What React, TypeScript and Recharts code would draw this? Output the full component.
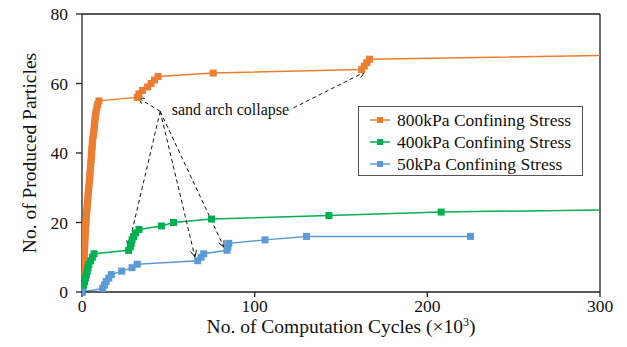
import { LineChart, Line, XAxis, YAxis, ReferenceLine, ReferenceDot, Label } from "recharts";

// 800kPa confining stress (x in 10^3 cycles, y = produced particles)
const orange = [
  { x: 0, y: 0 }, { x: 0.1, y: 1 }, { x: 0.3, y: 2 }, { x: 0.4, y: 3 }, { x: 0.5, y: 4 },
  { x: 0.6, y: 5 }, { x: 0.7, y: 6 }, { x: 0.8, y: 7 }, { x: 0.9, y: 8 }, { x: 1.0, y: 9 },
  { x: 1.2, y: 10 }, { x: 1.3, y: 11 }, { x: 1.4, y: 12 }, { x: 1.5, y: 13 }, { x: 1.6, y: 14 },
  { x: 1.7, y: 15 }, { x: 1.8, y: 16 }, { x: 1.9, y: 17 }, { x: 2.0, y: 18 }, { x: 2.1, y: 19 },
  { x: 2.3, y: 20 }, { x: 2.4, y: 21 }, { x: 2.6, y: 22 }, { x: 2.7, y: 23 }, { x: 2.9, y: 24 },
  { x: 3.0, y: 25 }, { x: 3.2, y: 26 }, { x: 3.4, y: 27 }, { x: 3.5, y: 28 }, { x: 3.7, y: 29 },
  { x: 3.9, y: 30 }, { x: 4.1, y: 31 }, { x: 4.3, y: 32 }, { x: 4.5, y: 33 }, { x: 4.6, y: 34 },
  { x: 4.8, y: 35 }, { x: 5.0, y: 36 }, { x: 5.1, y: 37 }, { x: 5.3, y: 38 }, { x: 5.4, y: 39 },
  { x: 5.6, y: 40 }, { x: 5.7, y: 41 }, { x: 5.9, y: 42 }, { x: 6.0, y: 43 }, { x: 6.2, y: 44 },
  { x: 6.5, y: 45 }, { x: 6.8, y: 46 }, { x: 7.0, y: 47 }, { x: 7.2, y: 48 }, { x: 7.4, y: 49 },
  { x: 7.6, y: 50 }, { x: 7.9, y: 51 }, { x: 8.2, y: 52 }, { x: 8.6, y: 53 }, { x: 9.1, y: 54 },
  { x: 9.8, y: 55 }, { x: 32, y: 56 }, { x: 33, y: 57 }, { x: 35, y: 58 }, { x: 38, y: 59 },
  { x: 40, y: 60 }, { x: 42, y: 61 }, { x: 44, y: 62 }, { x: 76, y: 63 }, { x: 162, y: 64 },
  { x: 163.5, y: 65 }, { x: 165, y: 66 }, { x: 166.5, y: 67 }, { x: 310, y: 68.1 },
];

// 400kPa
const green = [
  { x: 0, y: 0 }, { x: 0.5, y: 1 }, { x: 1, y: 2 }, { x: 1.5, y: 3 }, { x: 2, y: 4 },
  { x: 2.5, y: 5 }, { x: 3, y: 6 }, { x: 3.5, y: 7 }, { x: 4, y: 8 }, { x: 5, y: 9 },
  { x: 6, y: 10 }, { x: 7, y: 11 }, { x: 27, y: 12 }, { x: 28, y: 13 }, { x: 28.5, y: 14 },
  { x: 29, y: 15 }, { x: 30, y: 16 }, { x: 31, y: 17 }, { x: 33, y: 18 }, { x: 46, y: 19 },
  { x: 53, y: 20 }, { x: 75, y: 21 }, { x: 143, y: 22 }, { x: 208, y: 23 }, { x: 310, y: 23.7 },
];

// 50kPa
const blue = [
  { x: 0, y: 0 }, { x: 12, y: 1 }, { x: 13, y: 2 }, { x: 14, y: 3 }, { x: 15.5, y: 4 },
  { x: 17, y: 5 }, { x: 23, y: 6 }, { x: 29, y: 7 }, { x: 32, y: 8 }, { x: 67, y: 9 },
  { x: 69, y: 10 }, { x: 70.5, y: 11 }, { x: 84, y: 12 }, { x: 84.5, y: 13 }, { x: 85, y: 14 },
  { x: 106, y: 15 }, { x: 130, y: 16 }, { x: 225, y: 16 },
];

const xTicks = [0, 100, 200, 300];
const yTicks = [0, 20, 40, 60, 80];

// "sand arch collapse" arrows: [from, to]
const arrows = [
  [{ x: 45.3, y: 52 }, { x: 32.4, y: 55.9 }],
  [{ x: 45.3, y: 52 }, { x: 26.8, y: 12.9 }],
  [{ x: 45.3, y: 52 }, { x: 65.4, y: 10.1 }],
  [{ x: 45.3, y: 52 }, { x: 82.2, y: 12.9 }],
  [{ x: 122.5, y: 53 }, { x: 163.8, y: 63.3 }],
];

const series = [
  { name: "800kPa Confining Stress", color: "#ED7D31", data: orange },
  { name: "400kPa Confining Stress", color: "#00B050", data: green },
  { name: "50kPa Confining Stress", color: "#5B9BD5", data: blue },
];

const FONT = "Liberation Serif, Times New Roman, serif";

const Square = (props: any) => {
  const { cx, cy, stroke } = props;
  if (cx == null || cy == null) return null;
  return <rect x={cx - 3.5} y={cy - 3.5} width={7} height={7} fill={stroke} />;
};

const Arrow = (props: any) => {
  const { x1, y1, x2, y2 } = props;
  const a = Math.atan2(y2 - y1, x2 - x1);
  const L = 7;
  const w = 0.45;
  const p1 = `${x2 - L * Math.cos(a - w)},${y2 - L * Math.sin(a - w)}`;
  const p2 = `${x2 - L * Math.cos(a + w)},${y2 - L * Math.sin(a + w)}`;
  return (
    <g>
      <line x1={x1} y1={y1} x2={x2} y2={y2} stroke="#111" strokeWidth={1} strokeDasharray="4 3" />
      <polyline points={`${p1} ${x2},${y2} ${p2}`} fill="none" stroke="#111" strokeWidth={1} />
    </g>
  );
};

const LegendBox = () => (
  <div
    style={{
      position: "absolute",
      left: 358,
      top: 106,
      width: 225,
      height: 70,
      boxSizing: "border-box",
      border: "1px solid #555",
      background: "#fff",
      padding: "2px 0 0 11px",
      fontFamily: FONT,
      fontSize: 17.5,
      color: "#111",
    }}
  >
    {series.map((s) => (
      <div key={s.name} style={{ display: "flex", alignItems: "center", height: 22, whiteSpace: "nowrap" }}>
        <svg width={20} height={10} style={{ marginRight: 7, flexShrink: 0 }}>
          <line x1={0} y1={5} x2={20} y2={5} stroke={s.color} strokeWidth={1.5} />
          <rect x={7} y={2} width={6} height={6} fill={s.color} />
        </svg>
        <span>{s.name}</span>
      </div>
    ))}
  </div>
);

const XLabel = (props: any) => {
  const { viewBox } = props;
  const cx = viewBox.x + viewBox.width / 2;
  return (
    <text x={cx} y={viewBox.y + 41} textAnchor="middle" fontFamily={FONT} fontSize={19.5} fill="#111">
      No. of Computation Cycles (×10<tspan dy={-7} fontSize={12}>3</tspan>
      <tspan dy={7}>)</tspan>
    </text>
  );
};

const YLabel = (props: any) => {
  const { viewBox } = props;
  const x = 36;
  const y = viewBox.y + viewBox.height / 2;
  return (
    <text
      x={x}
      y={y}
      transform={`rotate(-90 ${x} ${y})`}
      textAnchor="middle"
      fontFamily={FONT}
      fontSize={19.5}
      fill="#111"
    >
      No. of Produced Particles
    </text>
  );
};

export default function App() {
  return (
    <div style={{ position: "absolute", left: 0, top: 0, width: 627, height: 347, background: "#fff" }}>
      <LineChart width={627} height={347} margin={{ top: 14, right: 27, bottom: 0, left: 22 }}>
        <XAxis
          type="number"
          dataKey="x"
          domain={[0, 300]}
          ticks={xTicks}
          allowDataOverflow
          tickSize={5}
          stroke="#222"
          strokeWidth={1.3}
          tick={{ fill: "#111", fontSize: 17.5, fontFamily: FONT }}
          tickMargin={3}
          height={55}
        >
          <Label content={<XLabel />} />
        </XAxis>
        <YAxis
          type="number"
          dataKey="y"
          domain={[0, 80]}
          ticks={yTicks}
          tickSize={6}
          stroke="#222"
          strokeWidth={1.3}
          tick={{ fill: "#111", fontSize: 17.5, fontFamily: FONT }}
          tickMargin={8}
          width={60}
        >
          <Label content={<YLabel />} />
        </YAxis>
        <ReferenceLine y={80} stroke="#222" strokeWidth={1.3} />
        <ReferenceLine x={300} stroke="#222" strokeWidth={1.3} />
        {series.map((s) => (
          <Line
            key={s.name}
            data={s.data}
            dataKey="y"
            name={s.name}
            stroke={s.color}
            strokeWidth={1.5}
            dot={<Square />}
            activeDot={false}
            isAnimationActive={false}
          />
        ))}
        {arrows.map((seg, i) => (
          <ReferenceLine key={i} segment={seg} shape={<Arrow />} />
        ))}
        <ReferenceDot
          x={52}
          y={52.5}
          r={0}
          fill="none"
          stroke="none"
          label={{
            value: "sand arch collapse",
            position: "right",
            offset: 0,
            style: { fontFamily: FONT, fontSize: 16, fill: "#111" },
          }}
        />
      </LineChart>
      <LegendBox />
    </div>
  );
}
